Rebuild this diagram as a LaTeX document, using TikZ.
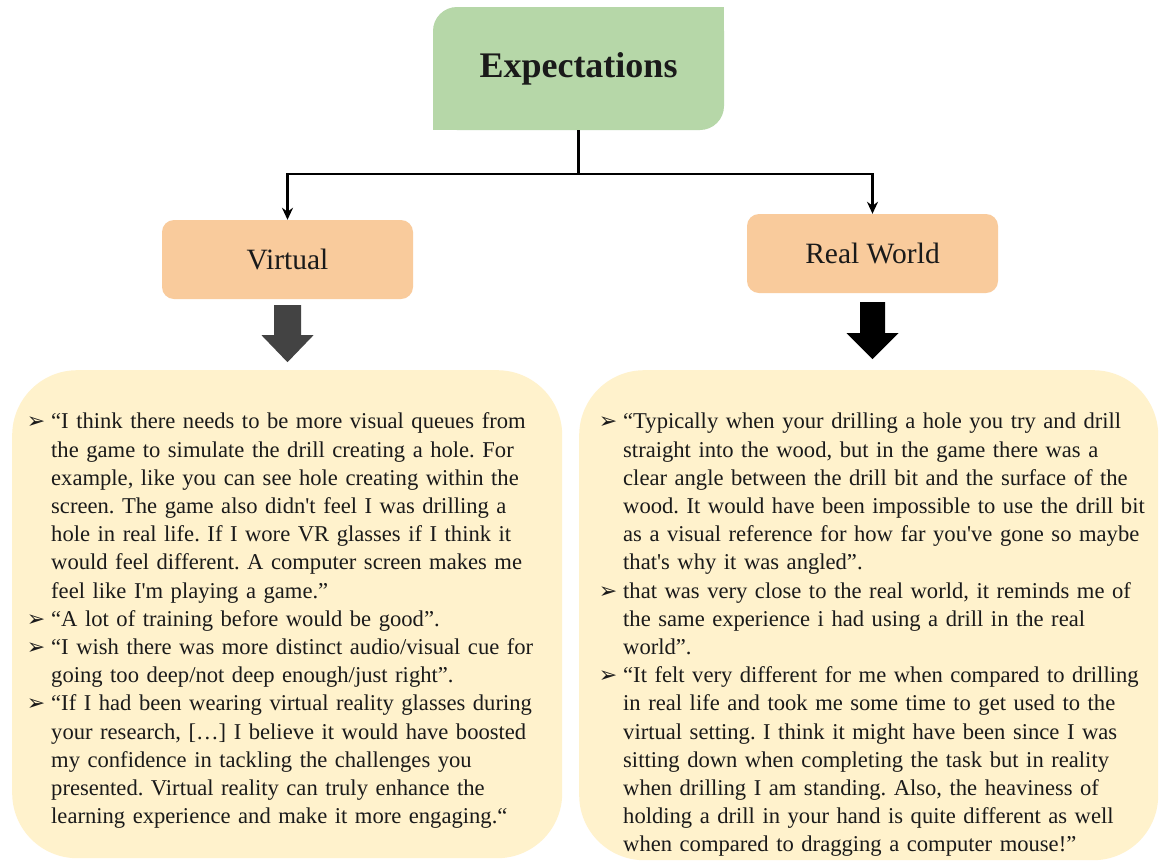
\documentclass[tikz,border=0pt]{standalone}
\usepackage{fontspec}
\setmainfont{Liberation Serif}
\newfontfamily\dejavu{DejaVu Sans}
\usetikzlibrary{arrows.meta}
\definecolor{expgreen}{HTML}{B6D7A8}
\definecolor{suborange}{HTML}{F9CB9C}
\definecolor{quoteyellow}{HTML}{FFF2CC}
\definecolor{arrowgray}{HTML}{434343}
\definecolor{txt}{HTML}{1A1A1A}
\newcommand{\bul}{\leavevmode\llap{{\dejavu\fontsize{22}{22}\selectfont ➢}\hspace{6pt}}}
\newcommand{\sq}{\textquotesingle}
\frenchspacing
\begin{document}
\begin{tikzpicture}[x=1pt,y=-1pt,
  subbox/.style={fill=suborange, rounded corners=12pt, minimum width=251pt, minimum height=79pt, inner sep=0pt, text=txt, font=\fontsize{29.5}{34}\selectfont},
  quotebox/.style={fill=quoteyellow, rounded corners=65pt, anchor=north west, inner sep=0pt},
  quotetext/.style={anchor=north west, inner sep=0pt, text width=560pt, align=left, text=txt, font=\frenchspacing\fontsize{22.6}{28.2}\selectfont},
  link/.style={line width=2.3pt, draw=black},
  linkarrow/.style={link, -{Stealth[length=12pt,width=11pt]}}
]
\useasboundingbox[fill=white] (0,0) rectangle (1160,863);

% Expectations box (top-left and bottom-right rounded)
\fill[expgreen, rounded corners=24pt] (433,7) rectangle (724,130);
\fill[expgreen] (650,7) rectangle (724,60);
\fill[expgreen] (433,80) rectangle (500,130);
\node[minimum width=291pt, minimum height=123pt, inner sep=0pt, text=txt,
      font=\bfseries\fontsize{36}{40}\selectfont] (exp) at (578.5,68.5) {Expectations};

% sub boxes
\node[subbox] (virt) at (287.5,259.5) {Virtual};
\node[subbox] (real) at (872.5,253.5) {Real World};

% connectors
\draw[link] (exp.south) -- ++(0,44) coordinate (split);
\draw[linkarrow] (split) -| (virt.north);
\draw[linkarrow] (split) -| (real.north);

% block arrows
\begin{scope}[shift={(virt.south)}]
\fill[arrowgray] (-13.5,6) -- (13.5,6) -- (13.5,36) -- (26,36) -- (0,63) -- (-26,36) -- (-13.5,36) -- cycle;
\end{scope}
\begin{scope}[shift={(real.south)}]
\fill[black] (-12.5,9) -- (12.5,9) -- (12.5,40) -- (26,40) -- (0,66) -- (-26,40) -- (-12.5,40) -- cycle;
\end{scope}

% quote boxes
\node[quotebox, minimum width=550pt, minimum height=488pt] (vq) at (12,370) {};
\node[quotebox, minimum width=579pt, minimum height=490pt] (rq) at (579,370) {};

\node[quotetext] (vtext) at (51,409) {\strut\bul “I think there needs to be more visual queues from\\
the game to simulate the drill creating a hole. For\\
example, like you can see hole creating within the\\
screen. The game also didn\sq t feel I was drilling a\\
hole in real life. If I wore VR glasses if I think it\\
would feel different. A computer screen makes me\\
feel like I\sq m playing a game.”\\
\bul “A lot of training before would be good”.\\
\bul “I wish there was more distinct audio/visual cue for\\
going too deep/not deep enough/just right”.\\
\bul “If I had been wearing virtual reality glasses during\\
your research, […] I believe it would have boosted\\
my confidence in tackling the challenges you\\
presented. Virtual reality can truly enhance the\\
learning experience and make it more engaging.“};

\node[quotetext] (rtext) at (623,409) {\strut\bul “Typically when your drilling a hole you try and drill\\
straight into the wood, but in the game there was a\\
clear angle between the drill bit and the surface of the\\
wood. It would have been impossible to use the drill bit\\
as a visual reference for how far you\sq ve gone so maybe\\
that\sq s why it was angled”.\\
\bul that was very close to the real world, it reminds me of\\
the same experience i had using a drill in the real\\
world”.\\
\bul “It felt very different for me when compared to drilling\\
in real life and took me some time to get used to the\\
virtual setting. I think it might have been since I was\\
sitting down when completing the task but in reality\\
when drilling I am standing. Also, the heaviness of\\
holding a drill in your hand is quite different as well\\
when compared to dragging a computer mouse!”};
\end{tikzpicture}
\end{document}
